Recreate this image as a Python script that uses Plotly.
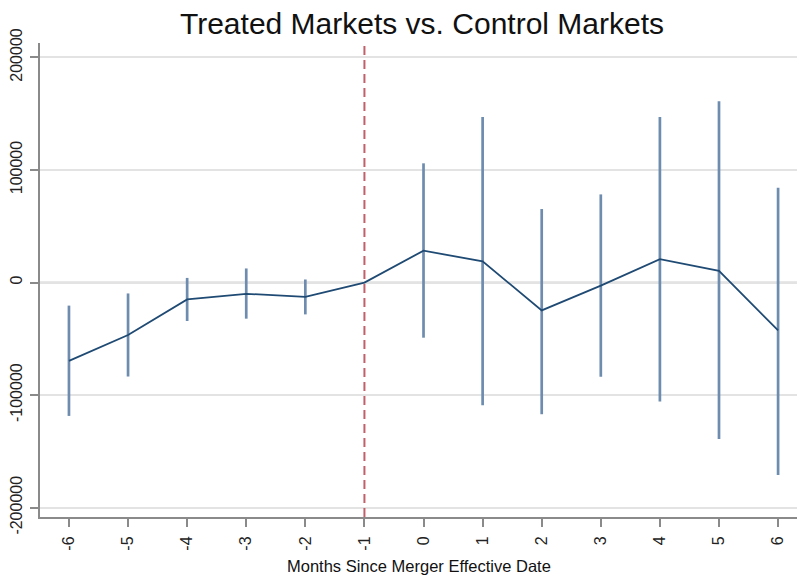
import plotly.graph_objects as go

# Event-study estimates: months relative to the merger effective date
months = [-6, -5, -4, -3, -2, -1, 0, 1, 2, 3, 4, 5, 6]
coef = [-69600, -46600, -15000, -10000, -12700, 0, 28300, 18800, -24700, -2700, 20700, 10300, -42500]
ci_low = [-118500, -83500, -34200, -32100, -28300, 0, -49000, -109000, -117000, -83700, -105800, -139000, -171000]
ci_high = [-20500, -9700, 4100, 12500, 2700, 0, 105900, 147000, 65300, 78300, 147000, 161000, 84300]

y_ticks = [-200000, -100000, 0, 100000, 200000]
y_tick_text = ["-200000", "-100000", "0", "100000", "200000"]
x_tick_text = [str(m) for m in months]
event_month = -1

title_text = "Treated Markets vs. Control Markets"
x_title = "Months Since Merger Effective Date"

FONT = "Liberation Sans, Arial, Helvetica, sans-serif"
LINE_COLOR = "#1f4a73"
CI_COLOR = "#6d8cae"

# confidence-interval spikes as separate segments
spike_x, spike_y = [], []
for m, lo, hi in zip(months, ci_low, ci_high):
    spike_x += [m, m, None]
    spike_y += [lo, hi, None]

fig = go.Figure()
fig.add_trace(go.Scatter(
    x=spike_x, y=spike_y, mode="lines",
    line=dict(color=CI_COLOR, width=2.7),
    hoverinfo="skip", showlegend=False,
))
fig.add_trace(go.Scatter(
    x=months, y=coef, mode="lines",
    line=dict(color=LINE_COLOR, width=1.8),
    showlegend=False,
))

# reference lines: zero effect and the event month
fig.add_hline(y=0, line=dict(color="#a3a3a3", width=1.5), layer="below")
fig.add_vline(x=event_month, line=dict(color="#c0606c", width=2, dash="9px,5px"))

fig.update_layout(
    width=797, height=579,
    margin=dict(l=40, r=0, t=43, b=62),
    paper_bgcolor="white", plot_bgcolor="white",
    font=dict(family=FONT, color="#111111"),
    title=dict(
        text=title_text, font=dict(size=30, color="#111111", family=FONT),
        x=422 / 797, xref="container", xanchor="center",
        y=1 - 23 / 579, yref="container", yanchor="middle",
    ),
    annotations=[dict(
        text=x_title, xref="paper", yref="paper", x=0.5, y=-(566 - 517) / 474,
        xanchor="center", yanchor="middle", showarrow=False,
        font=dict(size=16.5, color="#111111", family=FONT),
    )],
)

fig.update_xaxes(
    range=[-6.49, 6.32], tickmode="array", tickvals=months, ticktext=x_tick_text,
    tickangle=-90, tickfont=dict(size=16, color="#222222"),
    ticks="outside", ticklen=8, tickwidth=1.5, tickcolor="#8a8a8a",
    showline=True, linecolor="#8a8a8a", linewidth=2,
    showgrid=False, zeroline=False, ticklabelstandoff=3,
)
fig.update_yaxes(
    range=[-208300, 212800], tickmode="array", tickvals=y_ticks, ticktext=y_tick_text,
    tickangle=-90, tickfont=dict(size=16, color="#222222"),
    ticks="outside", ticklen=8, tickwidth=1.5, tickcolor="#8a8a8a",
    showline=True, linecolor="#8a8a8a", linewidth=2,
    showgrid=True, gridcolor="#e3e3e3", gridwidth=1.5, zeroline=False,
    ticklabelstandoff=2,
)

fig.write_html("out.html")
